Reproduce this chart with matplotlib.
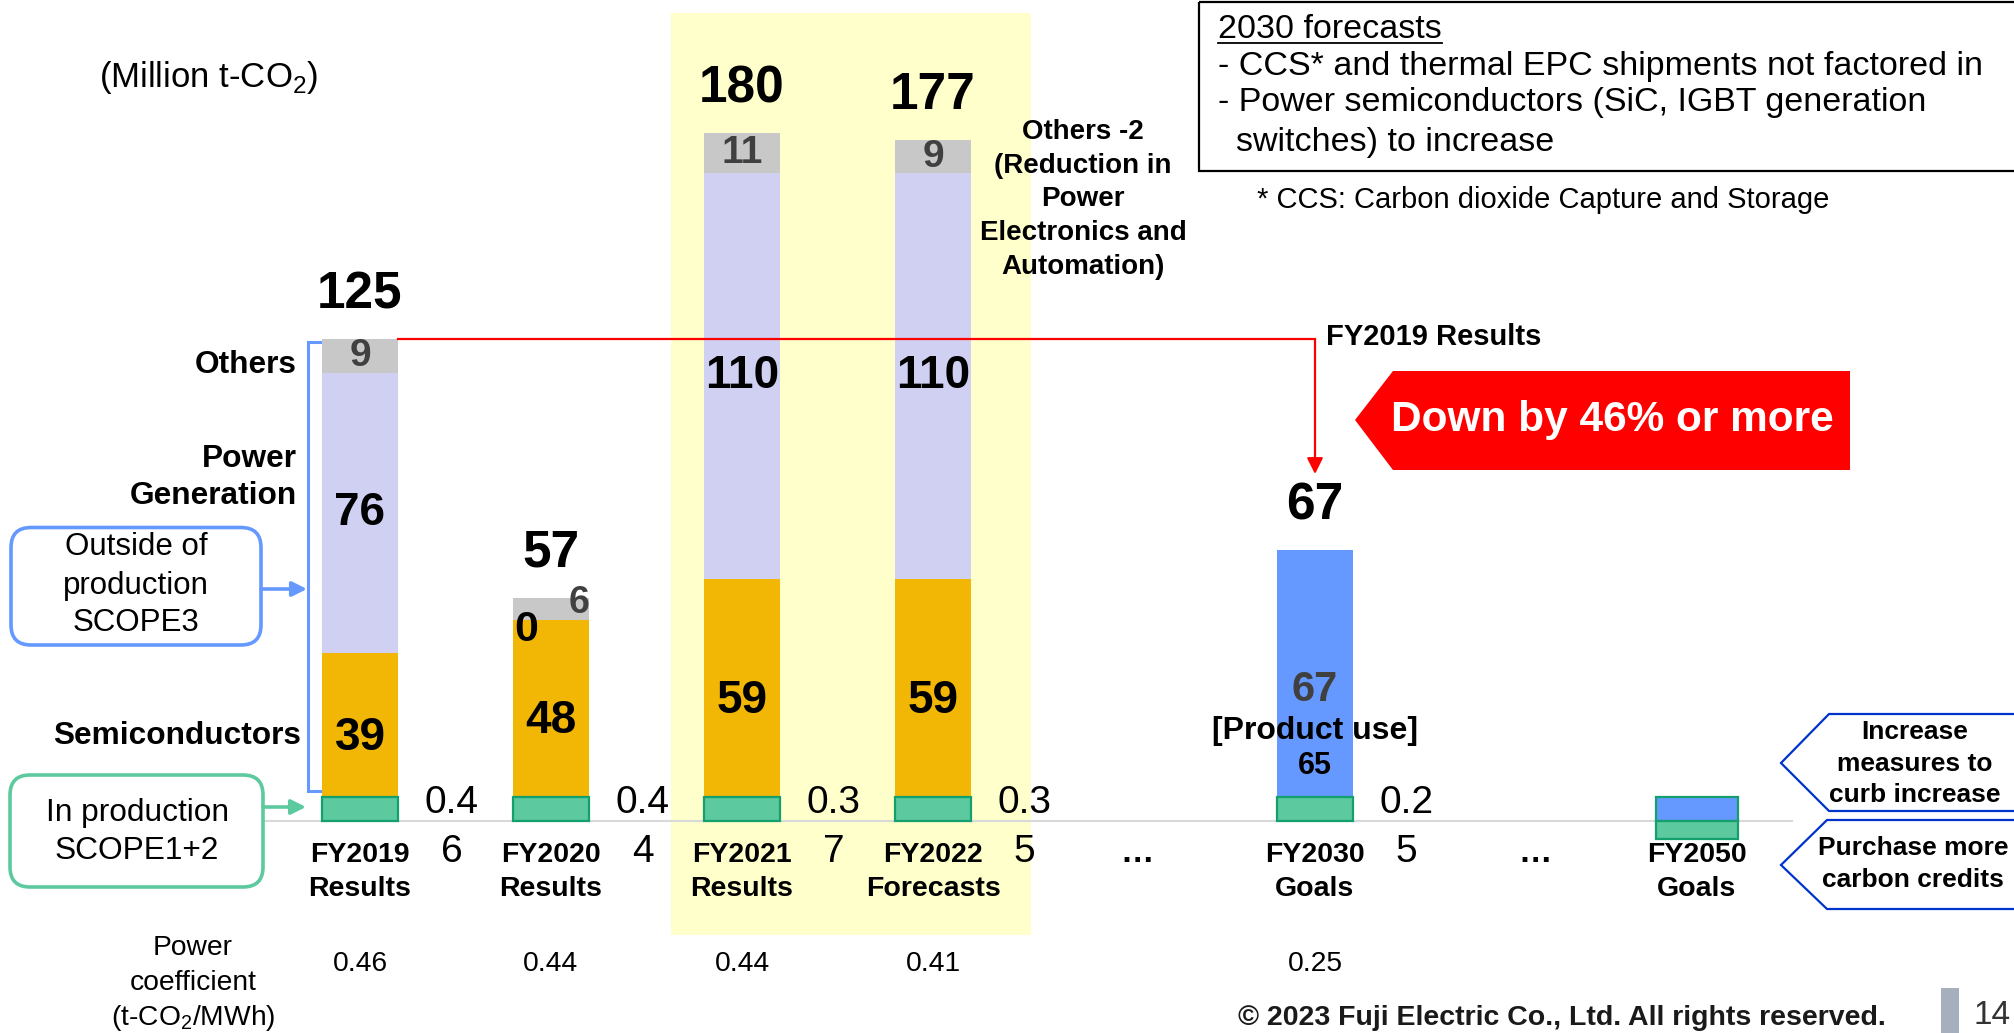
import matplotlib.pyplot as plt
from matplotlib.patches import FancyBboxPatch, Polygon, Rectangle

plt.rcParams["font.family"] = ["Liberation Sans", "DejaVu Sans"]
plt.rcParams["mathtext.fontset"] = "custom"
plt.rcParams["mathtext.rm"] = "Liberation Sans"
plt.rcParams["mathtext.bf"] = "Liberation Sans:bold"

# ---------------------------------------------------------------- data
years = ["FY2019", "FY2020", "FY2021", "FY2022", "FY2030", "FY2050"]
kinds = ["Results", "Results", "Results", "Forecasts", "Goals", "Goals"]
xpos = [0, 1, 2, 3, 5, 7]
semis = [39, 48, 59, 59, 0]
power_gen = [76, 0, 110, 110, 0]
others = [9, 6, 11, 9, 0]
product_use = [0, 0, 0, 0, 67]
totals = [125, 57, 180, 177, 67]
scope12_a = ["0.4", "0.4", "0.3", "0.3", "0.2"]
scope12_b = ["6", "4", "7", "5", "5"]
coef = ["0.46", "0.44", "0.44", "0.41", "0.25"]
product_use_net = 65

# ---------------------------------------------------------------- layout
W, H = 2014, 1033
X0, XS = 360, 191        # pixel centre of first bar, pixels per slot
BASE, YS = 821, 3.69     # baseline pixel row, pixels per Mt
G = 6.5                  # drawn height of the scope 1+2 strip (not to scale)
BW = 0.40

LAV, ORANGE, GREY = "#D0D1F2", "#F2B705", "#C8C8C8"
GREEN, GREEN_E, BLUE = "#5DC99E", "#14A06E", "#6699FF"
DARK = "#404040"


def gx(px):
    return (px - X0) / XS


def gy(py):
    return (BASE - py) / YS


fig = plt.figure(figsize=(W / 100, H / 100), dpi=100)
ax = fig.add_axes([0, 0, 1, 1])
ax.set_xlim(gx(0), gx(W)); ax.set_ylim(gy(H), gy(0)); ax.axis("off")
ov = fig.add_axes([0, 0, 1, 1])
ov.set_xlim(0, W); ov.set_ylim(H, 0); ov.axis("off")


def t(x, y, s, size, weight="normal", ha="center", va="center", color="black", **kw):
    return ov.text(x, y, s, fontsize=size, fontweight=weight, ha=ha, va=va,
                   color=color, **kw)


# highlight for FY2021/FY2022
ax.add_patch(Rectangle((gx(671), gy(935)), gx(1031) - gx(671), gy(13) - gy(935),
                       color="#FFFFCC", zorder=0, lw=0))
ax.hlines(0, gx(263), gx(1793), color="#D9D9D9", lw=1.5, zorder=1)

# ---------------------------------------------------------------- bars
n = len(semis)
xs = xpos[:n]
b_semi = [G] * n
b_pow = [G + s for s in semis]
b_oth = [b + p for b, p in zip(b_pow, power_gen)]
tops = [max(b + o, G + u) for b, o, u in zip(b_oth, others, product_use)]

ax.bar(xs, [G] * n, BW, bottom=0, color=GREEN, edgecolor=GREEN_E, lw=1.6, zorder=3)
ax.bar(xs, semis, BW, bottom=b_semi, color=ORANGE, zorder=2)
ax.bar(xs, power_gen, BW, bottom=b_pow, color=LAV, zorder=2)
ax.bar(xs, others, BW, bottom=b_oth, color=GREY, zorder=2)
ax.bar(xs, product_use, BW, bottom=G, color=BLUE, zorder=2)
# FY2050: net zero sketch
ax.bar(xpos[5], G, BW * 1.08, bottom=0, color=BLUE, edgecolor=GREEN_E, lw=1.6, zorder=3)
ax.bar(xpos[5], G * 0.75, BW * 1.08, bottom=-G * 0.75, color=GREEN,
       edgecolor=GREEN_E, lw=1.6, zorder=3)

for i in range(n):
    x = xs[i]
    ax.text(x, tops[i] + 12, str(totals[i]), fontsize=37, fontweight="bold",
            ha="center", va="center", zorder=5)
    if semis[i]:
        ax.text(x, G + semis[i] / 2 - 3.5, str(semis[i]), fontsize=33,
                fontweight="bold", ha="center", va="center", zorder=5)
    if power_gen[i]:
        ax.text(x, b_pow[i] + power_gen[i] / 2, str(power_gen[i]), fontsize=33,
                fontweight="bold", ha="center", va="center", zorder=5)
        ax.text(x, b_oth[i] + others[i] / 2, str(others[i]), fontsize=28,
                fontweight="bold", ha="center", va="center", color=DARK, zorder=5)
    elif others[i]:
        ax.text(x - BW / 2 + 0.01, b_pow[i] - 2.8, str(power_gen[i]), fontsize=31,
                fontweight="bold", ha="left", va="center", zorder=5)
        ax.text(x + BW / 2, b_oth[i] + others[i] / 2 + 1.5, str(others[i]), fontsize=27,
                fontweight="bold", ha="right", va="center", color=DARK, zorder=5)
    ax.text(x + 0.48, 5.0, scope12_a[i], fontsize=28, ha="center", va="center")
    ax.text(x + 0.48, -8.3, scope12_b[i], fontsize=28, ha="center", va="center")
    ax.text(x, gy(964), coef[i], fontsize=20.3, ha="center", va="center")

# FY2030 product-use labels
x30 = xpos[4]
ax.text(x30, G + 29, str(product_use[4]), fontsize=30, fontweight="bold",
        ha="center", va="center", color=DARK, zorder=5)
ax.text(x30, G + 18, "[Product use]", fontsize=23, fontweight="bold",
        ha="center", va="center", zorder=5)
ax.text(x30, G + 8.3, str(product_use_net), fontsize=22, fontweight="bold",
        ha="center", va="center", zorder=5)

for x, y, k in zip(xpos, years, kinds):
    ax.text(x, gy(855), y, fontsize=20.5, fontweight="bold", ha="center", va="center")
    ax.text(x, gy(889), k, fontsize=20.5, fontweight="bold", ha="center", va="center")
for xd in (4.07, 6.15):
    ax.text(xd, gy(854), "…", fontsize=24, fontweight="bold", ha="center", va="center")

# red reduction arrow from FY2019 total to FY2030
ytop = tops[0]
ax.plot([xs[0] + BW / 2, x30], [ytop, ytop], color="red", lw=1.6, zorder=6)
ax.annotate("", xy=(x30, gy(474)), xytext=(x30, ytop),
            arrowprops=dict(arrowstyle="-|>", color="red", lw=1.6,
                            mutation_scale=24, shrinkA=0, shrinkB=0), zorder=6)

# ---------------------------------------------------------------- annotations
t(209, 77, "(Million t-CO$_2$)", 25)
t(297, 365, "Others", 22.8, "bold", ha="right")
t(297, 459, "Power", 22.8, "bold", ha="right")
t(297, 496, "Generation", 22.8, "bold", ha="right")
t(301, 736, "Semiconductors", 22.8, "bold", ha="right")

ov.plot([320, 308, 308, 320], [342, 342, 791, 791], color=BLUE, lw=2.2,
        solid_joinstyle="miter")
ov.add_patch(FancyBboxPatch((11, 527.5), 250, 117.5,
                            boxstyle="round,pad=0,rounding_size=20",
                            fc="white", ec=BLUE, lw=2.6))
ov.annotate("", xy=(307, 589), xytext=(261, 589),
            arrowprops=dict(arrowstyle="-|>", color=BLUE, lw=2.6,
                            mutation_scale=22, shrinkA=0, shrinkB=0))
for y, s in zip((547, 586, 623), ("Outside of", "production", "SCOPE3")):
    t(136, y, s, 22.5)

ov.add_patch(FancyBboxPatch((10, 775), 253, 112,
                            boxstyle="round,pad=0,rounding_size=20",
                            fc="white", ec=GREEN, lw=2.6))
ov.annotate("", xy=(306, 807), xytext=(263, 807),
            arrowprops=dict(arrowstyle="-|>", color=GREEN, lw=2.6,
                            mutation_scale=22, shrinkA=0, shrinkB=0))
t(137, 813, "In production", 22.8)
t(137, 851, "SCOPE1+2", 22.8)

for y, s in zip((948, 983, 1018), ("Power", "coefficient", "(t-CO$_2$/MWh)")):
    t(193, y, s, 20.3)

for y, s in zip((132, 166, 199, 233, 267),
                ("Others -2", "(Reduction in", "Power", "Electronics and",
                 "Automation)")):
    t(1083, y, s, 20, "bold")

# forecast box
ov.add_patch(Rectangle((1199, 1.5), 900, 169.5, fill=False, ec="black", lw=1.6))
hdr = t(1218, 30, "2030 forecasts", 24.5, ha="left")
t(1218, 67, "- CCS* and thermal EPC shipments not factored in", 24.5, ha="left")
t(1218, 103, "- Power semiconductors (SiC, IGBT generation", 24.5, ha="left")
t(1236, 142, "switches) to increase", 24.5, ha="left")
fig.canvas.draw()
bb = hdr.get_window_extent().transformed(ov.transData.inverted())
ov.plot([bb.x0, bb.x1], [43, 43], color="black", lw=1.3)
t(1257, 200, "* CCS: Carbon dioxide Capture and Storage", 21, ha="left")

t(1326, 337, "FY2019 Results", 21, "bold", ha="left")
ov.add_patch(Polygon([(1355, 420), (1393, 371), (1850, 371), (1850, 470), (1393, 470)],
                     closed=True, fc="#FF0000", ec="none"))
t(1612, 420, "Down by 46% or more", 30.5, "bold", color="white")

ov.add_patch(Polygon([(1781, 763), (1829, 714), (2030, 714), (2030, 811), (1829, 811)],
                     closed=True, fc="white", ec="#0033CC", lw=1.6))
for y, s in zip((732, 764, 795), ("Increase", "measures to", "curb increase")):
    t(1915, y, s, 19, "bold")
ov.add_patch(Polygon([(1781, 865), (1827, 820), (2030, 820), (2030, 909), (1827, 909)],
                     closed=True, fc="white", ec="#0033CC", lw=1.6))
t(1913, 848, "Purchase more", 19, "bold")
t(1913, 880, "carbon credits", 19, "bold")

# footer
t(1562, 1031, "© 2023 Fuji Electric Co., Ltd. All rights reserved.", 20.5, "bold",
  va="bottom", color="#1A1A1A")
ov.add_patch(Rectangle((1941, 988), 18, 50, color="#A5B0BC", lw=0))
t(2011, 1031, "14", 24, ha="right", va="bottom", color="#333333")

fig.savefig("out.png", dpi=100)
